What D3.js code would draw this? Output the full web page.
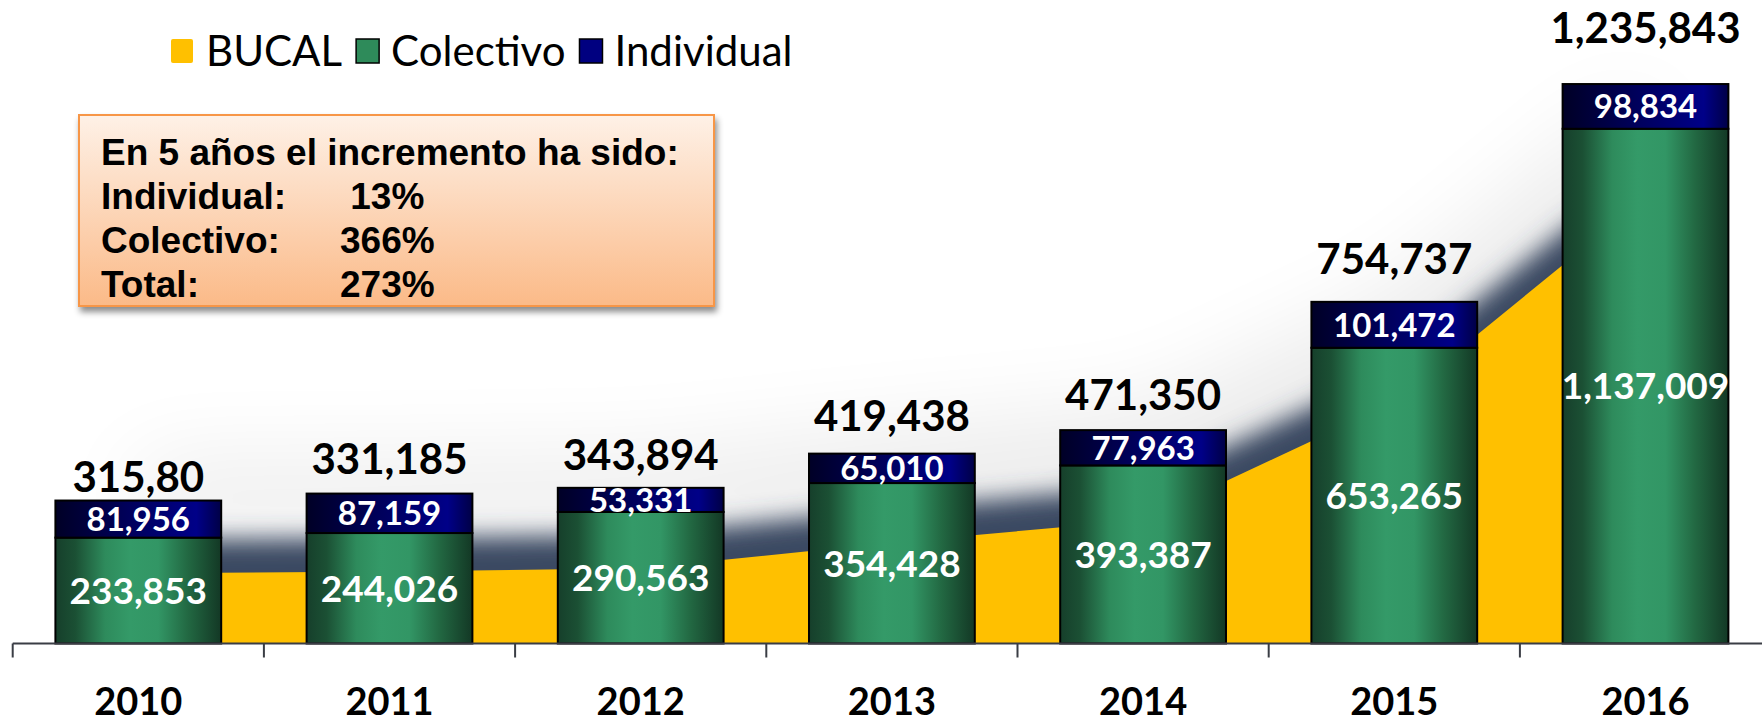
<!DOCTYPE html>
<html lang="es">
  <head>
    <meta charset="UTF-8" />
    <title>Afiliados</title>
    <style>
      body {
        margin: 0;
        background: #ffffff;
      }
      text {
        font-family: Lato, "Open Sans", sans-serif;
      }
      .note text {
        font-family: "Liberation Sans", Arial, sans-serif;
        font-weight: bold;
      }
    </style>
  </head>
  <body>
    <svg id="chart"></svg>
    <script src="https://cdnjs.cloudflare.com/ajax/libs/d3/7.8.5/d3.min.js"></script>
    <script>
      // data
      const years = ["2010", "2011", "2012", "2013", "2014", "2015", "2016"];
      const colectivo = [233853, 244026, 290563, 354428, 393387, 653265, 1137009];
      const individual = [81956, 87159, 53331, 65010, 77963, 101472, 98834];
      const bucal = [155000, 159000, 166000, 223000, 273000, 533000, 985000];
      const totalLabels = ["315,80", "331,185", "343,894", "419,438", "471,350", "754,737", "1,235,843"];
      const legendNames = ["BUCAL", "Colectivo", "Individual"];
      const noteTitle = "En 5 años el incremento ha sido:";
      const noteRows = ["Individual:", "Colectivo:", "Total:"];
      const noteValues = [" 13%", "366%", "273%"];

      // how far each total label sits above its bar (px), as placed in the original
      const totalLift = [9, 20, 18, 23, 20, 28, 41];

      const W = 1762,
        H = 724;
      const svg = d3.select("#chart").attr("width", W).attr("height", H);
      const defs = svg.append("defs");

      const x = d3
        .scaleBand()
        .domain(years)
        .range([12.7, 12.7 + 251.2 * years.length])
        .paddingInner(0.34)
        .paddingOuter(0.17);
      const y = d3.scaleLinear().domain([0, 1421500]).range([643.5, 0]);
      const bw = x.bandwidth();
      const cx = (d) => x(d) + bw / 2;

      const fmt = d3.format(",");

      // gradients
      const gGreen = defs.append("linearGradient").attr("id", "gGreen").attr("x1", 0).attr("x2", 1).attr("y1", 0).attr("y2", 0);
      [
        [0, "#163f2b"],
        [0.12, "#1b5034"],
        [0.3, "#2e8b5c"],
        [0.45, "#349a68"],
        [0.62, "#329665"],
        [0.8, "#226842"],
        [1, "#133825"],
      ].forEach(([o, c]) => gGreen.append("stop").attr("offset", o).attr("stop-color", c));

      const gNavy = defs.append("linearGradient").attr("id", "gNavy").attr("x1", 0).attr("x2", 1).attr("y1", 0).attr("y2", 0);
      [
        [0, "#000026"],
        [0.45, "#00005c"],
        [0.85, "#000088"],
        [1, "#000046"],
      ].forEach(([o, c]) => gNavy.append("stop").attr("offset", o).attr("stop-color", c));

      const gNote = defs.append("linearGradient").attr("id", "gNote").attr("x1", 0).attr("x2", 0).attr("y1", 0).attr("y2", 1);
      gNote.append("stop").attr("offset", 0).attr("stop-color", "#fef1e7");
      gNote.append("stop").attr("offset", 1).attr("stop-color", "#fbba88");

      defs.append("filter").attr("id", "blurDark").attr("x", "-20%").attr("y", "-50%").attr("width", "140%").attr("height", "200%")
        .append("feGaussianBlur").attr("stdDeviation", 12);
      defs.append("filter").attr("id", "blurWide").attr("x", "-30%").attr("y", "-80%").attr("width", "160%").attr("height", "260%")
        .append("feGaussianBlur").attr("stdDeviation", 45);
      defs.append("filter").attr("id", "boxShadow").attr("x", "-10%").attr("y", "-10%").attr("width", "120%").attr("height", "130%")
        .append("feDropShadow").attr("dx", 2).attr("dy", 5).attr("stdDeviation", 3).attr("flood-color", "#000").attr("flood-opacity", 0.45);

      // BUCAL area with its soft shadow
      const area = d3
        .area()
        .x((d, i) => cx(years[i]))
        .y0(y(0))
        .y1((d) => y(d));

      svg.append("path").datum(bucal).attr("d", area).attr("fill", "#000").attr("opacity", 0.08)
        .attr("transform", "translate(0,-110)").attr("filter", "url(#blurWide)");
      svg.append("path").datum(bucal).attr("d", area).attr("fill", "#3b4862")
        .attr("transform", "translate(0,-34)").attr("filter", "url(#blurDark)");
      svg.append("path").datum(bucal).attr("d", area).attr("fill", "#ffc000");

      // stacked bars
      const bars = svg.selectAll("g.bar").data(years).join("g").attr("class", "bar");

      bars.append("rect")
        .attr("x", (d) => x(d))
        .attr("width", bw)
        .attr("y", (d, i) => y(colectivo[i]))
        .attr("height", (d, i) => y(0) - y(colectivo[i]))
        .attr("fill", "url(#gGreen)")
        .attr("stroke", "#000")
        .attr("stroke-width", 2);

      bars.append("rect")
        .attr("x", (d) => x(d))
        .attr("width", bw)
        .attr("y", (d, i) => y(colectivo[i] + individual[i]))
        .attr("height", (d, i) => y(colectivo[i]) - y(colectivo[i] + individual[i]))
        .attr("fill", "url(#gNavy)")
        .attr("stroke", "#000")
        .attr("stroke-width", 2);

      bars.append("text")
        .attr("x", cx)
        .attr("y", (d, i) => (y(0) + y(colectivo[i])) / 2)
        .attr("dy", "0.36em")
        .attr("text-anchor", "middle")
        .attr("fill", "#fff")
        .attr("font-weight", "bold")
        .attr("font-size", 37)
        .text((d, i) => fmt(colectivo[i]));

      bars.append("text")
        .attr("x", cx)
        .attr("y", (d, i) => (y(colectivo[i]) + y(colectivo[i] + individual[i])) / 2)
        .attr("dy", "0.36em")
        .attr("text-anchor", "middle")
        .attr("fill", "#fff")
        .attr("font-weight", "bold")
        .attr("font-size", 33)
        .text((d, i) => fmt(individual[i]));

      bars.append("text")
        .attr("x", cx)
        .attr("y", (d, i) => y(colectivo[i] + individual[i]) - totalLift[i])
        .attr("text-anchor", "middle")
        .attr("fill", "#000")
        .attr("font-weight", "bold")
        .attr("font-size", 42)
        .text((d, i) => totalLabels[i]);

      // x axis: line, ticks between categories, year labels
      const axis = svg.append("g").attr("transform", `translate(0,${y(0)})`);
      const [r0, r1] = x.range();
      axis.append("line").attr("x1", r0).attr("x2", r1).attr("stroke", "#3a3d45").attr("stroke-width", 2);
      axis.selectAll("line.tick")
        .data(d3.range(years.length + 1))
        .join("line")
        .attr("class", "tick")
        .attr("x1", (i) => r0 + i * x.step())
        .attr("x2", (i) => r0 + i * x.step())
        .attr("y1", 0)
        .attr("y2", 14)
        .attr("stroke", "#3a3d45")
        .attr("stroke-width", 2);

      const xAxis = svg.append("g").attr("transform", `translate(0,${y(0)})`).call(d3.axisBottom(x).tickSize(0));
      xAxis.select(".domain").remove();
      xAxis.selectAll("text")
        .attr("y", 71)
        .attr("dy", 0)
        .attr("fill", "#000")
        .attr("font-family", "Lato, 'Open Sans', sans-serif")
        .attr("font-weight", "bold")
        .attr("font-size", 38);

      // legend, laid out left to right
      const legendFill = ["#ffc000", "#2e8b5a", "#000080"];
      const legend = svg.append("g").attr("transform", "translate(171,39)");
      let lx = 0;
      legendNames.forEach((name, i) => {
        const g = legend.append("g").attr("transform", `translate(${lx},0)`);
        g.append("rect")
          .attr("width", i === 0 ? 22 : 23)
          .attr("height", 24)
          .attr("rx", i === 0 ? 2 : 0)
          .attr("fill", legendFill[i])
          .attr("stroke", i === 0 ? "none" : "#000")
          .attr("stroke-width", 1.5);
        const t = g.append("text")
          .attr("x", 35)
          .attr("y", 27)
          .attr("font-size", 42)
          .attr("fill", "#000")
          .text(name);
        lx += 35 + t.node().getComputedTextLength() + 14;
      });

      // note box
      const note = svg.append("g").attr("class", "note");
      note.append("rect")
        .attr("x", 79)
        .attr("y", 115)
        .attr("width", 635)
        .attr("height", 191)
        .attr("fill", "url(#gNote)")
        .attr("stroke", "#f79646")
        .attr("stroke-width", 2)
        .attr("filter", "url(#boxShadow)");
      note.append("text").attr("x", 101).attr("y", 165).attr("font-size", 37).attr("fill", "#000").text(noteTitle);
      note.selectAll("text.row").data(noteRows).join("text")
        .attr("class", "row")
        .attr("x", 101)
        .attr("y", (d, i) => 209 + i * 44)
        .attr("font-size", 37)
        .attr("fill", "#000")
        .text((d) => d);
      note.selectAll("text.val").data(noteValues).join("text")
        .attr("class", "val")
        .attr("x", 340)
        .attr("y", (d, i) => 209 + i * 44)
        .attr("font-size", 37)
        .attr("fill", "#000")
        .style("white-space", "pre")
        .text((d) => d);
    </script>
  </body>
</html>
